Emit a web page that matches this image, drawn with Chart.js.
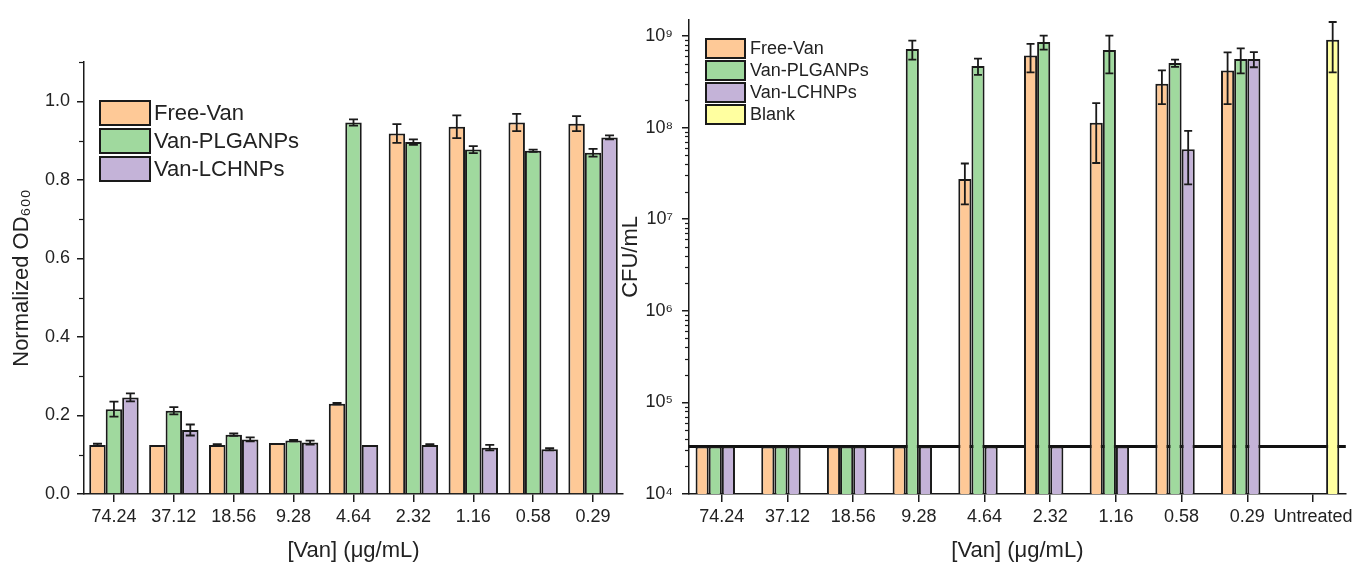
<!DOCTYPE html>
<html>
<head>
<meta charset="utf-8">
<script src="https://cdn.jsdelivr.net/npm/chart.js@4.4.0/dist/chart.umd.min.js"></script>
<style>
  html, body { margin: 0; padding: 0; background: #fff; }
  #wrap { position: relative; width: 1357px; height: 565px; }
  .box { position: absolute; top: 0; height: 565px; }
  #leftBox { left: 0; width: 628px; }
  #rightBox { left: 610px; width: 747px; }
</style>
</head>
<body>
<div id="wrap">
  <div class="box" id="leftBox"><canvas id="odChart"></canvas></div>
  <div class="box" id="rightBox"><canvas id="cfuChart"></canvas></div>
</div>
<script>
// concentrations of vancomycin (µg/mL)
const concentrations = ["74.24", "37.12", "18.56", "9.28", "4.64", "2.32", "1.16", "0.58", "0.29"];
const cfuCategories = [...concentrations, "Untreated"];

// left panel: normalized OD600
const odFreeVan = [0.125, 0.125, 0.125, 0.130, 0.230, 0.918, 0.935, 0.946, 0.943];
const odFreeVanErr = [0.003, 0, 0.002, 0, 0.002, 0.024, 0.029, 0.022, 0.019];
const odPlga = [0.216, 0.212, 0.151, 0.136, 0.946, 0.896, 0.877, 0.874, 0.869];
const odPlgaErr = [0.019, 0.009, 0.003, 0.002, 0.008, 0.007, 0.009, 0.003, 0.010];
const odLchn = [0.246, 0.163, 0.139, 0.131, 0.125, 0.125, 0.118, 0.114, 0.908];
const odLchnErr = [0.010, 0.014, 0.005, 0.005, 0, 0.002, 0.007, 0.003, 0.005];
const odTickLabels = ["0.0", "0.2", "0.4", "0.6", "0.8", "1.0"];
const odMinorTicks = [0.1, 0.3, 0.5, 0.7, 0.9, 1.1];

// right panel: CFU/mL (log), detection limit drawn as a line
const detectionLimit = 3.3e4;
const lod = detectionLimit;
const cfuFreeVan = [lod, lod, lod, lod, 2.75e7, 6.1e8, 1.13e8, 3.0e8, 4.2e8, null];
const cfuFreeVanErr = [0, 0, 0, 0, 1.3e7, 2.1e8, 7.2e7, 1.2e8, 2.4e8, null];
const cfuPlga = [lod, lod, lod, 7.2e8, 4.7e8, 8.6e8, 7.0e8, 5.05e8, 5.6e8, null];
const cfuPlgaErr = [0, 0, 0, 1.7e8, 0.95e8, 1.5e8, 3.1e8, 0.45e8, 1.7e8, null];
const cfuLchn = [lod, lod, lod, lod, lod, lod, lod, 5.8e7, 5.6e8, null];
const cfuLchnErr = [0, 0, 0, 0, 0, 0, 0, 3.4e7, 1.05e8, null];
const cfuBlank = [null, null, null, null, null, null, null, null, null, 9.1e8];
const cfuBlankErr = [null, null, null, null, null, null, null, null, null, 5.1e8];
const cfuTickLabels = { 4: "10⁴", 5: "10⁵", 6: "10⁶", 7: "10⁷", 8: "10⁸", 9: "10⁹" };

const colors = {
  free: "rgb(254, 201, 151)",
  plga: "rgb(160, 217, 158)",
  lchn: "rgb(196, 179, 216)",
  blank: "rgb(255, 255, 160)"
};

Chart.defaults.font.family = "'Liberation Sans', Arial, sans-serif";
Chart.defaults.color = "#222";
Chart.defaults.animation = false;

const ink = "#1a1a1a";

const errorBars = {
  id: "errorBars",
  afterDatasetsDraw(chart, args, o) {
    const ctx = chart.ctx;
    const ys = chart.scales.y;
    ctx.save();
    ctx.strokeStyle = ink;
    ctx.lineWidth = o.width;
    chart.data.datasets.forEach((ds, di) => {
      if (!ds.errors) return;
      const meta = chart.getDatasetMeta(di);
      meta.data.forEach((bar, i) => {
        const v = ds.data[i], e = ds.errors[i];
        if (v == null || !e) return;
        const x = bar.x;
        const top = ys.getPixelForValue(v + e);
        const bot = ys.getPixelForValue(Math.max(v - e, ys.min));
        const half = o.cap / 2;
        ctx.beginPath();
        ctx.moveTo(x, top); ctx.lineTo(x, bot);
        ctx.moveTo(x - half, top); ctx.lineTo(x + half, top);
        ctx.moveTo(x - half, bot); ctx.lineTo(x + half, bot);
        ctx.stroke();
      });
    });
    ctx.restore();
  }
};

const boxLegend = {
  id: "boxLegend",
  afterDraw(chart, args, o) {
    const ctx = chart.ctx;
    ctx.save();
    chart.data.datasets.forEach((ds, i) => {
      const y = o.y + i * o.pitch;
      ctx.fillStyle = ds.backgroundColor;
      ctx.fillRect(o.x, y, o.boxW, o.boxH);
      ctx.lineWidth = 2;
      ctx.strokeStyle = ink;
      ctx.strokeRect(o.x, y, o.boxW, o.boxH);
      ctx.fillStyle = "#222";
      ctx.font = o.font;
      ctx.textBaseline = "middle";
      ctx.fillText(ds.label, o.x + o.boxW + o.gap, y + o.boxH / 2 + 1);
    });
    ctx.restore();
  }
};

const minorTicks = {
  id: "minorTicks",
  afterDraw(chart, args, o) {
    const s = chart.scales.y, ctx = chart.ctx;
    ctx.save();
    ctx.strokeStyle = ink;
    ctx.lineWidth = 1.2;
    o.values.forEach(v => {
      const p = Math.round(s.getPixelForValue(v)) + 0.5;
      ctx.beginPath();
      ctx.moveTo(s.right - o.len, p);
      ctx.lineTo(s.right, p);
      ctx.stroke();
    });
    ctx.restore();
  }
};

const lodLine = {
  id: "lodLine",
  beforeDatasetsDraw(chart, args, o) {
    const a = chart.chartArea, ctx = chart.ctx;
    const y = chart.scales.y.getPixelForValue(o.value);
    ctx.save();
    ctx.strokeStyle = "#111";
    ctx.lineWidth = 3;
    ctx.beginPath();
    ctx.moveTo(a.left, y);
    ctx.lineTo(a.right, y);
    ctx.stroke();
    ctx.restore();
  }
};

function barSet(label, data, errors, color) {
  return {
    label: label,
    data: data,
    errors: errors,
    backgroundColor: color,
    borderColor: ink,
    borderWidth: 2,
    barPercentage: 1
  };
}

const axisBorder = { display: true, color: ink, width: 1.5 };
const tickFont = { size: 18 };
const titleFont = { size: 22 };

// ---- left chart ----
new Chart(document.getElementById("odChart"), {
  type: "bar",
  data: {
    labels: concentrations,
    datasets: [
      barSet("Free-Van", odFreeVan, odFreeVanErr, colors.free),
      barSet("Van-PLGANPs", odPlga, odPlgaErr, colors.plga),
      barSet("Van-LCHNPs", odLchn, odLchnErr, colors.lchn)
    ]
  },
  options: {
    responsive: true,
    maintainAspectRatio: false,
    datasets: { bar: { categoryPercentage: 0.825 } },
    layout: { padding: { left: 0, right: 5, top: 62, bottom: 0 } },
    scales: {
      x: {
        offset: true,
        border: axisBorder,
        grid: { offset: false, drawOnChartArea: false, tickLength: 8, color: ink, lineWidth: 1.5 },
        ticks: { font: tickFont, padding: 4, maxRotation: 0, autoSkip: false },
        title: { display: true, text: "[Van] (μg/mL)", font: titleFont, padding: { top: 0, bottom: 1 } },
        afterFit: s => { s.height = 71; }
      },
      y: {
        min: 0,
        max: 1.1,
        border: axisBorder,
        grid: { drawOnChartArea: false, tickLength: 7, color: ink, lineWidth: 1.5 },
        ticks: {
          stepSize: 0.2,
          font: tickFont,
          padding: 7,
          callback: v => odTickLabels[Math.round(v * 5)]
        },
        afterBuildTicks: s => {
          s.ticks = s.ticks.filter(t => Math.abs(t.value * 5 - Math.round(t.value * 5)) < 1e-6);
        },
        title: { display: true, text: "Normalized OD₆₀₀", font: titleFont, padding: { top: 9, bottom: 0 } },
        afterFit: s => { s.width = 84; }
      }
    },
    plugins: {
      legend: { display: false },
      tooltip: { enabled: false },
      errorBars: { width: 1.8, cap: 9 },
      minorTicks: { values: odMinorTicks, len: 5 },
      boxLegend: { x: 100, y: 101, boxW: 50, boxH: 24, pitch: 28, gap: 4, font: "22px 'Liberation Sans', Arial, sans-serif" }
    }
  },
  plugins: [errorBars, minorTicks, boxLegend]
});

// ---- right chart ----
const cfuMinor = [];
for (let e = 4; e <= 8; e++) {
  for (let m = 2; m <= 9; m++) cfuMinor.push(m * Math.pow(10, e));
}

new Chart(document.getElementById("cfuChart"), {
  type: "bar",
  data: {
    labels: cfuCategories,
    datasets: [
      barSet("Free-Van", cfuFreeVan, cfuFreeVanErr, colors.free),
      barSet("Van-PLGANPs", cfuPlga, cfuPlgaErr, colors.plga),
      barSet("Van-LCHNPs", cfuLchn, cfuLchnErr, colors.lchn),
      barSet("Blank", cfuBlank, cfuBlankErr, colors.blank)
    ]
  },
  options: {
    responsive: true,
    maintainAspectRatio: false,
    datasets: { bar: { categoryPercentage: 0.8 } },
    layout: { padding: { left: 0, right: 10, top: 15, bottom: 0 } },
    scales: {
      x: {
        offset: true,
        border: axisBorder,
        grid: { offset: false, drawOnChartArea: false, tickLength: 8, color: ink, lineWidth: 1.5 },
        ticks: { font: tickFont, padding: 4, maxRotation: 0, autoSkip: false },
        title: { display: true, text: "[Van] (μg/mL)", font: titleFont, padding: { top: 0, bottom: 1 } },
        afterFit: s => { s.height = 71; }
      },
      y: {
        type: "logarithmic",
        min: 1e4,
        max: 1.5e9,
        border: axisBorder,
        grid: { drawOnChartArea: false, tickLength: 7, color: ink, lineWidth: 1.5 },
        ticks: {
          font: tickFont,
          padding: 9,
          callback: v => cfuTickLabels[Math.round(Math.log10(v))]
        },
        afterBuildTicks: s => {
          s.ticks = s.ticks.filter(t => {
            const l = Math.log10(t.value);
            return Math.abs(l - Math.round(l)) < 1e-9;
          });
        },
        title: { display: true, text: "CFU/mL", font: titleFont, padding: { top: 8, bottom: 0 } },
        afterFit: s => { s.width = 79; }
      }
    },
    plugins: {
      legend: { display: false },
      tooltip: { enabled: false },
      errorBars: { width: 1.8, cap: 8 },
      minorTicks: { values: cfuMinor, len: 4 },
      lodLine: { value: detectionLimit },
      boxLegend: { x: 96, y: 39, boxW: 39, boxH: 19, pitch: 22, gap: 5, font: "18px 'Liberation Sans', Arial, sans-serif" }
    }
  },
  plugins: [lodLine, errorBars, minorTicks, boxLegend]
});
</script>
</body>
</html>
